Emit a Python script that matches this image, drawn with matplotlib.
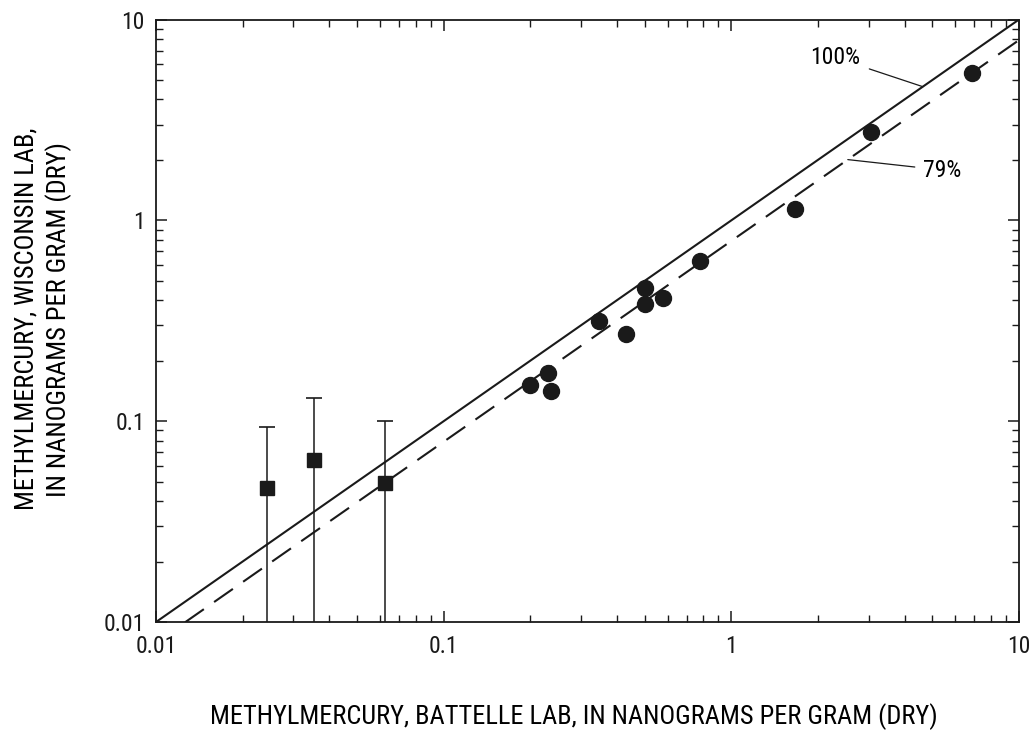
import matplotlib
matplotlib.use("Agg")
import matplotlib.pyplot as plt
from matplotlib import font_manager
import numpy as np
from matplotlib.ticker import LogLocator, FixedLocator, NullFormatter

names = {f.name for f in font_manager.fontManager.ttflist}
fam = [n for n in ['Roboto Condensed', 'Liberation Sans Narrow', 'DejaVu Sans Condensed',
                   'Open Sans Condensed', 'Roboto'] if n in names] + ['DejaVu Sans']
plt.rcParams['font.family'] = fam
plt.rcParams['font.stretch'] = 'condensed'

# Circles: paired samples (Battelle vs Wisconsin)
battelle_circ = [0.20, 0.23, 0.236, 0.348, 0.429, 0.502, 0.503, 0.578, 0.78, 1.66, 3.05, 6.84]
wisconsin_circ = [0.151, 0.173, 0.141, 0.315, 0.273, 0.461, 0.384, 0.411, 0.625, 1.14, 2.75, 5.44]

# Squares with error bars
battelle_sq = [0.0244, 0.0355, 0.0625]
wisconsin_sq = [0.0465, 0.0644, 0.0493]
upper_sq = [0.0933, 0.13, 0.0997]
lower_sq = [0.001, 0.001, 0.001]

ref_slopes = [1.0, 0.79]
ref_labels = ["100%", "79%"]

fig = plt.figure(figsize=(10.36, 7.31), dpi=100)
ax = fig.add_axes([0.1506, 0.1491, 0.8330, 0.8242])
ax.set_xscale('log')
ax.set_yscale('log')
ax.set_xlim(0.01, 10)
ax.set_ylim(0.01, 10)

ink = '#1a1a1a'
xx = np.array([0.01, 10])
ax.plot(xx, ref_slopes[0] * xx, color=ink, lw=1.5, zorder=2)
ax.plot(xx, ref_slopes[1] * xx, color=ink, lw=1.5, dashes=(11, 6), zorder=2)

ys = np.array(wisconsin_sq)
yerr = [ys - np.array(lower_sq), np.array(upper_sq) - ys]
ax.errorbar(battelle_sq, wisconsin_sq, yerr=yerr, fmt='s', color=ink,
            ms=10, ecolor=ink, elinewidth=1.1, capsize=6, capthick=1.2,
            zorder=3)
ax.plot(battelle_circ, wisconsin_circ, 'o', color=ink, ms=11.5, zorder=4)

# annotations
ax.annotate(ref_labels[0], xy=(4.63, 4.63), xytext=(1.876, 6.47),
            fontsize=17, ha='left', va='center',
            arrowprops=dict(arrowstyle='-', lw=0.9, color=ink,
                            shrinkA=5, shrinkB=0))
ax.annotate(ref_labels[1], xy=(2.54, 0.79 * 2.54), xytext=(4.64, 1.78),
            fontsize=17, ha='left', va='center',
            arrowprops=dict(arrowstyle='-', lw=0.9, color=ink,
                            shrinkA=4, shrinkB=0))

for s in ax.spines.values():
    s.set_linewidth(1.3)
    s.set_color(ink)

ax.xaxis.set_major_locator(FixedLocator([0.01, 0.1, 1, 10]))
ax.yaxis.set_major_locator(FixedLocator([0.01, 0.1, 1, 10]))
ax.xaxis.set_minor_locator(LogLocator(base=10, subs=np.arange(2, 10)))
ax.yaxis.set_minor_locator(LogLocator(base=10, subs=np.arange(2, 10)))
ax.xaxis.set_minor_formatter(NullFormatter())
ax.yaxis.set_minor_formatter(NullFormatter())
ax.set_xticklabels(['0.01', '0.1', '1', '10'])
ax.set_yticklabels(['0.01', '0.1', '1', '10'])
ax.tick_params(which='major', direction='in', length=8, width=1.1,
               top=True, right=True, labelsize=17, pad=9.5, colors=ink)
ax.tick_params(which='minor', direction='in', length=5, width=1.0,
               top=True, right=True, colors=ink)
ax.tick_params(axis='y', which='major', pad=8)

fig.text(0.5536, 0.0192, "METHYLMERCURY, BATTELLE LAB, IN NANOGRAMS PER GRAM (DRY)",
         ha='center', va='center', fontsize=19)
fig.text(0.042, 0.5636, "METHYLMERCURY, WISCONSIN LAB,\nIN NANOGRAMS PER GRAM (DRY)",
         ha='center', va='center', fontsize=19, rotation=90, linespacing=1.3)

fig.savefig("out.png", dpi=100)
